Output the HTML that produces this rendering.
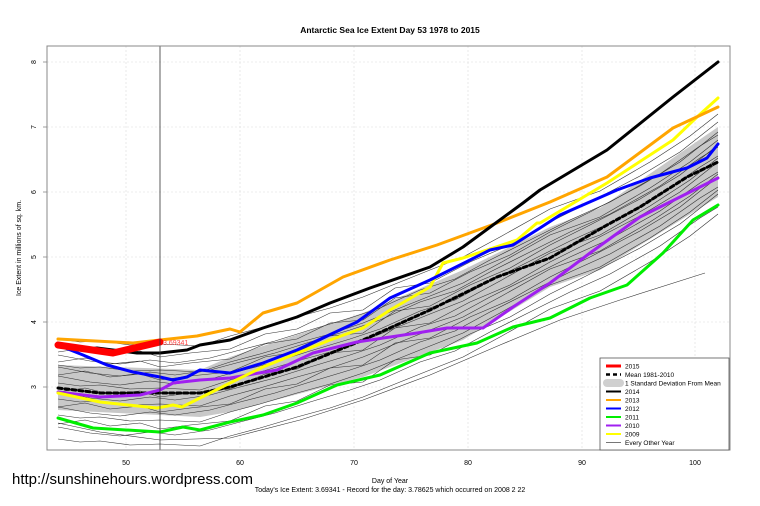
<!DOCTYPE html>
<html><head><meta charset="utf-8"><style>
body{margin:0;background:#fff;}
svg{display:block;font-family:"Liberation Sans",Arial,sans-serif;}
</style></head><body>
<svg width="760" height="506" viewBox="0 0 760 506">
<defs>
<polyline id="g1" fill="none" points="58,387 80,390 100,389 130,393 160,392 200,394 230,384 260,376 297,365 330,356 363,345 400,330 430,318 463,305 500,285 550,257 600,239 650,210 690,184 718,162"/>
<polyline id="g2" fill="none" points="58,390 85,386 110,392 140,389 160,395 190,391 230,387 265,372 297,367 330,351 363,348 395,326 430,321 470,300 510,283 550,260 590,240 640,214 680,190 718,160"/>
<polyline id="g3" fill="none" points="58,385 90,391 120,394 150,390 175,393 210,388 240,380 275,371 310,360 350,348 380,338 420,320 455,309 490,290 530,270 570,250 610,232 660,204 700,176 718,165"/>
</defs>
<rect width="760" height="506" fill="#fff"/>
<text x="390" y="33" font-size="8.5" font-weight="bold" text-anchor="middle">Antarctic Sea Ice Extent Day 53 1978 to 2015</text>
<g stroke="#ddd" stroke-width="0.6" stroke-dasharray="2,2">
<line x1="47" x2="730" y1="62" y2="62"/><line x1="47" x2="730" y1="127" y2="127"/><line x1="47" x2="730" y1="192" y2="192"/><line x1="47" x2="730" y1="257" y2="257"/><line x1="47" x2="730" y1="322" y2="322"/><line x1="47" x2="730" y1="387" y2="387"/>
<line y1="46" y2="450" x1="126" x2="126"/><line y1="46" y2="450" x1="240" x2="240"/><line y1="46" y2="450" x1="354" x2="354"/><line y1="46" y2="450" x1="468" x2="468"/><line y1="46" y2="450" x1="582" x2="582"/><line y1="46" y2="450" x1="695" x2="695"/>
</g>
<polygon fill="#c8c8c8" points="58,365 200,370 230,357 363,313 463,270 550,227 600,208 718,127 718,197 600,270 550,287 463,340 363,377 230,412 200,417 58,410"/>
<g stroke="#333" stroke-width="0.6" fill="none">
<use href="#g1" transform="translate(0,-48)"/>
<use href="#g2" transform="translate(0,-38)"/>
<use href="#g3" transform="translate(0,-30)"/>
<use href="#g1" transform="translate(0,-22)"/>
<use href="#g2" transform="translate(0,-15)"/>
<use href="#g3" transform="translate(0,-9)"/>
<use href="#g1" transform="translate(0,-4)"/>
<use href="#g2" transform="translate(0,2)"/>
<use href="#g3" transform="translate(0,7)"/>
<use href="#g1" transform="translate(0,12)"/>
<use href="#g2" transform="translate(0,17)"/>
<use href="#g3" transform="translate(0,22)"/>
<use href="#g1" transform="translate(0,28)"/>
<use href="#g2" transform="translate(0,34)"/>
<use href="#g3" transform="translate(0,42)"/>
<use href="#g1" transform="translate(0,52)"/>
<use href="#g2" transform="translate(0,-28)"/>
<use href="#g3" transform="translate(0,-18)"/>
<polyline points="58,423 100,432 160,440 230,438 300,420 363,400 430,375 500,345 560,320 620,300 705,273"/>
</g>
<g fill="none" stroke-linejoin="round" stroke-linecap="round">
<polyline stroke="#000" stroke-width="3" stroke-dasharray="4,3" points="58,388 100,393 200,393 230,387 297,367 363,340 430,310 497,277 550,258 607,225 640,207 687,177 718,162"/>
<polyline stroke="#00ee00" stroke-width="3" points="58,418 93,428 160,432 183,427 200,430 230,422 263,415 297,403 337,385 380,375 430,353 477,343 513,327 550,318 590,298 627,285 663,253 693,220 718,205"/>
<polyline stroke="#a020f0" stroke-width="3" points="58,392 100,397 140,395 160,390 173,383 200,380 230,378 277,370 313,353 357,342 417,333 447,328 483,328 513,307 550,283 590,253 640,217 690,192 718,178"/>
<polyline stroke="#ffff00" stroke-width="3" points="58,393 100,402 157,408 173,405 182,407 200,398 230,383 263,367 330,340 363,328 390,310 430,287 443,263 463,258 517,240 537,223 540,223 607,183 673,140 697,117 718,98"/>
<polyline stroke="#0000ff" stroke-width="3" points="58,345 83,355 107,365 133,372 160,377 173,380 187,377 200,370 230,373 263,363 297,350 357,322 390,298 430,280 490,250 513,245 540,228 560,215 617,190 650,178 687,168 707,158 718,144"/>
<polyline stroke="#ffa500" stroke-width="3" points="58,339 133,343 160,340 197,336 230,329 240,332 263,313 297,303 343,277 390,260 437,245 497,223 550,202 607,177 673,128 718,107"/>
<polyline stroke="#000" stroke-width="3" points="58,343 80,350 97,348 137,353 160,353 187,350 200,345 230,340 263,328 297,317 330,303 370,288 430,267 463,247 523,203 540,190 607,150 673,97 718,62"/>
<polyline stroke="#ff0000" stroke-width="7" points="58,345 113,353 160,342"/>
</g>
<line x1="160" x2="160" y1="46" y2="450" stroke="#333" stroke-width="0.8"/>
<text x="163" y="345" font-size="7" fill="#f44">3.69341</text>
<rect x="47" y="46" width="683" height="404" fill="none" stroke="#888" stroke-width="1"/>
<g font-size="7" text-anchor="middle">
<text x="126" y="465">50</text><text x="240" y="465">60</text><text x="354" y="465">70</text><text x="468" y="465">80</text><text x="582" y="465">90</text><text x="695" y="465">100</text>
</g>
<g font-size="7" text-anchor="middle">
<text transform="translate(36,62) rotate(-90)">8</text><text transform="translate(36,127) rotate(-90)">7</text><text transform="translate(36,192) rotate(-90)">6</text><text transform="translate(36,257) rotate(-90)">5</text><text transform="translate(36,322) rotate(-90)">4</text><text transform="translate(36,387) rotate(-90)">3</text>
<text transform="translate(21,248) rotate(-90)">Ice Extent in millions of sq. km.</text>
</g>
<g stroke="#888" stroke-width="0.8"><line x1="43" x2="47" y1="62" y2="62"/><line x1="43" x2="47" y1="127" y2="127"/><line x1="43" x2="47" y1="192" y2="192"/><line x1="43" x2="47" y1="257" y2="257"/><line x1="43" x2="47" y1="322" y2="322"/><line x1="43" x2="47" y1="387" y2="387"/></g>
<text x="390" y="483" font-size="7" text-anchor="middle">Day of Year</text>
<text x="390" y="492" font-size="7" text-anchor="middle">Today's Ice Extent: 3.69341  - Record for the day: 3.78625 which occurred on 2008 2 22</text>
<text x="12" y="484" font-size="15">http://sunshinehours.wordpress.com</text>
<rect x="600" y="358" width="129" height="92" fill="#fff" stroke="#555" stroke-width="0.8"/>
<g font-size="6.5">
<line x1="606" x2="621" y1="366" y2="366" stroke="#f00" stroke-width="3"/><text x="625" y="368.5">2015</text>
<line x1="606" x2="621" y1="374.5" y2="374.5" stroke="#000" stroke-width="2.5" stroke-dasharray="4,3"/><text x="625" y="377">Mean 1981-2010</text>
<rect x="603" y="379" width="21" height="8" rx="4" fill="#d0d0d0"/><text x="625" y="385.5">1 Standard Deviation From Mean</text>
<line x1="606" x2="621" y1="391.5" y2="391.5" stroke="#000" stroke-width="2"/><text x="625" y="394">2014</text>
<line x1="606" x2="621" y1="400" y2="400" stroke="#ffa500" stroke-width="2"/><text x="625" y="402.5">2013</text>
<line x1="606" x2="621" y1="408.5" y2="408.5" stroke="#00f" stroke-width="2"/><text x="625" y="411">2012</text>
<line x1="606" x2="621" y1="417" y2="417" stroke="#0e0" stroke-width="2"/><text x="625" y="419.5">2011</text>
<line x1="606" x2="621" y1="425.5" y2="425.5" stroke="#a020f0" stroke-width="2"/><text x="625" y="428">2010</text>
<line x1="606" x2="621" y1="434" y2="434" stroke="#ff0" stroke-width="2"/><text x="625" y="436.5">2009</text>
<line x1="606" x2="621" y1="442.5" y2="442.5" stroke="#555" stroke-width="0.8"/><text x="625" y="445">Every Other Year</text>
</g>
</svg>
</body></html>
